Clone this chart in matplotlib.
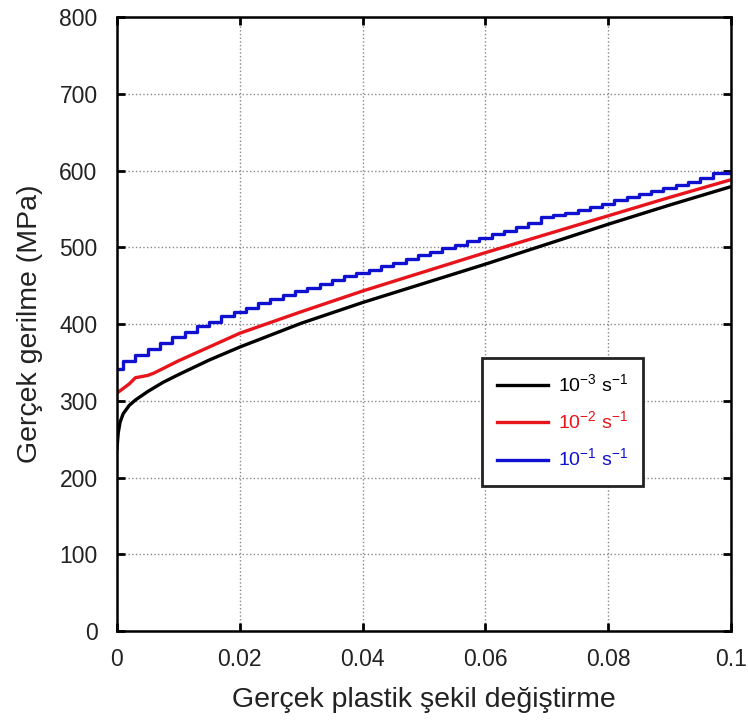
import numpy as np
from matplotlib import pyplot as plt

plt.rcParams['font.family'] = ['Liberation Sans', 'DejaVu Sans']

# 10^-3 s^-1
x_k = [0, 0.0002, 0.0005, 0.001, 0.002, 0.003, 0.005, 0.0075, 0.01, 0.015, 0.02,
       0.03, 0.04, 0.05, 0.06, 0.07, 0.08, 0.09, 0.1]
y_k = [238, 258, 272, 283, 294, 301, 312, 324, 334, 353, 370,
       401, 428, 453, 478, 504, 530, 555, 579]

# 10^-2 s^-1
x_r = [0, 0.001, 0.002, 0.003, 0.005, 0.006, 0.01, 0.015, 0.02, 0.03, 0.04,
       0.05, 0.06, 0.07, 0.08, 0.09, 0.1]
y_r = [310, 316, 322, 330, 333, 336, 352, 370, 388, 416, 443,
       468, 493, 517, 541, 565, 588]

# 10^-1 s^-1 (serrated / stepped)
x_b = [i * 0.002 for i in range(51)]
y_b = [342, 352, 360, 367, 375, 383, 390, 397, 403, 410, 416, 421, 427, 432, 438,
       443, 447, 452, 457, 462, 466, 471, 476, 480, 485, 490, 494, 499, 503, 508,
       512, 517, 521, 526, 531, 540, 542, 544, 548, 552, 556, 561, 565, 569, 573,
       577, 581, 585, 590, 597, 597]

labels = ['10$^{\\mathregular{-3}}$ s$^{\\mathregular{-1}}$',
          '10$^{\\mathregular{-2}}$ s$^{\\mathregular{-1}}$',
          '10$^{\\mathregular{-1}}$ s$^{\\mathregular{-1}}$']

fig = plt.figure(figsize=(7.48, 7.21), dpi=100)
ax = fig.add_axes([0.1564, 0.1248, 0.8209, 0.8516])

ax.plot(x_k, y_k, color='black', lw=2.4, label=labels[0])
ax.plot(x_r, y_r, color='#e8141c', lw=2.4, label=labels[1])
ax.plot(x_b, y_b, color='#1010d0', lw=2.4, drawstyle='steps-mid', label=labels[2])

ax.set_xlim(0, 0.1)
ax.set_ylim(0, 800)
ax.set_xticks([0, 0.02, 0.04, 0.06, 0.08, 0.1])
ax.set_xticklabels(['0', '0.02', '0.04', '0.06', '0.08', '0.1'])
ax.set_yticks(np.arange(0, 801, 100))
ax.grid(True, color='#888888', linestyle=':', lw=1)
ax.tick_params(direction='in', length=6, width=2, labelsize=16.5,
               top=True, right=True, labelcolor='#222222')
ax.tick_params(axis='x', pad=12)
ax.tick_params(axis='y', pad=14)
for s in ax.spines.values():
    s.set_linewidth(1.8)

ax.set_xlabel('Gerçek plastik şekil değiştirme', fontsize=20.5, labelpad=12,
              color='#222222')
ax.set_ylabel('Gerçek gerilme (MPa)', fontsize=20.5, labelpad=12, color='#222222')

leg = ax.legend(loc='upper left', bbox_to_anchor=(0.594, 0.445), borderaxespad=0,
                fontsize=14, labelcolor='linecolor', fancybox=False,
                edgecolor='#222222', framealpha=1, handlelength=2.6,
                handletextpad=0.5, borderpad=0.8, labelspacing=0.75)
leg.get_frame().set_linewidth(2)

plt.savefig('out.png', dpi=100)
